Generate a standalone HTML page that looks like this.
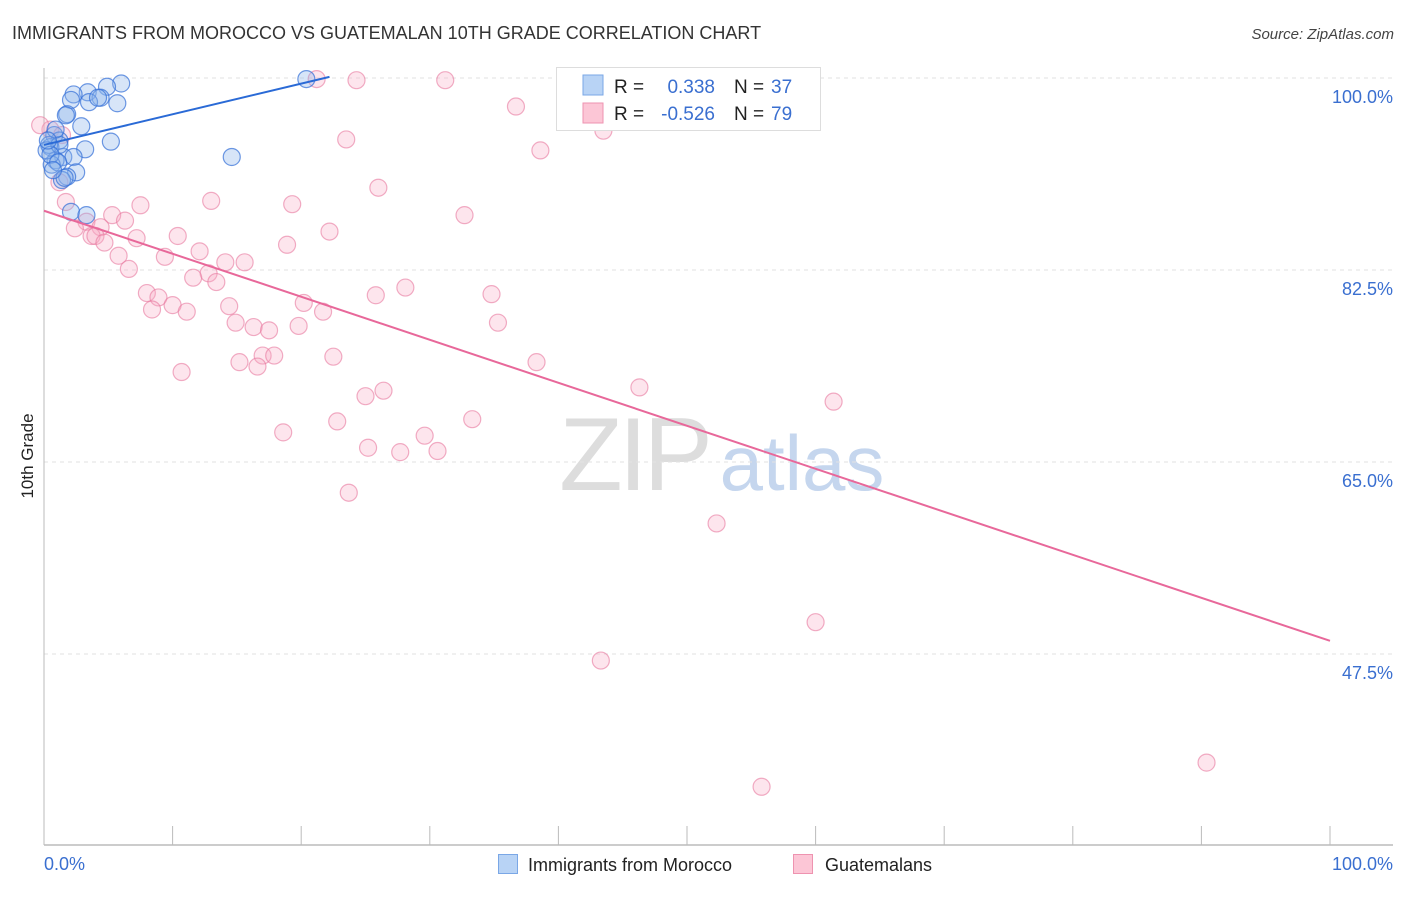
<!DOCTYPE html>
<html><head><meta charset="utf-8"><style>
body{margin:0;background:#fff;font-family:"Liberation Sans",sans-serif;}
svg text{font-family:"Liberation Sans",sans-serif;}
</style></head><body>
<svg id="chart" width="1406" height="892" xmlns="http://www.w3.org/2000/svg">
<text x="12" y="39" font-size="18" fill="#333">IMMIGRANTS FROM MOROCCO VS GUATEMALAN 10TH GRADE CORRELATION CHART</text>
<text x="1394" y="39" font-size="15" fill="#444" text-anchor="end" font-style="italic">Source: ZipAtlas.com</text>
<text transform="translate(33,456) rotate(-90)" font-size="17" fill="#222" text-anchor="middle">10th Grade</text>
<g>
<text x="634" y="490" font-size="104" fill="#ddd" text-anchor="middle" font-family="Liberation Serif" letter-spacing="-4">ZIP</text>
<text x="802" y="490" font-size="78" fill="#c5d6ee" text-anchor="middle">atlas</text>
</g>
<g id="grid"></g>
<g id="axes"></g>
<g id="points"></g>
<g id="trends"></g>
<g>
<rect x="556.5" y="67.5" width="264" height="63" fill="#fff" stroke="#ddd"/>
<rect x="583" y="75" width="20" height="20" fill="#b8d3f5" stroke="#7aa7e6"/>
<rect x="583" y="103" width="20" height="20" fill="#fcc6d6" stroke="#ee93b0"/>
<text x="614" y="93" font-size="19" fill="#222">R =</text>
<text x="715" y="93" font-size="19" fill="#3a6fd0" text-anchor="end">0.338</text>
<text x="734" y="93" font-size="19" fill="#222">N =</text>
<text x="771" y="93" font-size="19" fill="#3a6fd0">37</text>
<text x="614" y="120" font-size="19" fill="#222">R =</text>
<text x="715" y="120" font-size="19" fill="#3a6fd0" text-anchor="end">-0.526</text>
<text x="734" y="120" font-size="19" fill="#222">N =</text>
<text x="771" y="120" font-size="19" fill="#3a6fd0">79</text>
</g>
<g>
<rect x="498.5" y="854.5" width="19" height="19" fill="#b8d3f5" stroke="#7aa7e6"/>
<text x="528" y="871" font-size="18" fill="#222">Immigrants from Morocco</text>
<rect x="793.5" y="854.5" width="19" height="19" fill="#fcc6d6" stroke="#ee93b0"/>
<text x="825" y="871" font-size="18" fill="#222">Guatemalans</text>
</g>
</svg>
<script>
const yTicks=[100,82.5,65,47.5];
const yTickLabels=["100.0%","82.5%","65.0%","47.5%"];
const xTickCount=10;
const xLabels=["0.0%","100.0%"];
const moroccoX=[20.4,6.0,4.9,3.4,2.3,4.4,2.1,5.7,3.5,1.8,2.9,0.8,1.2,0.5,3.2,5.2,1.5,2.3,0.9,14.6,0.6,2.5,1.8,1.4,2.1,3.3,0.4,0.2,1.2,0.9,1.7,4.2,0.5,1.1,1.6,0.3,0.7];
const moroccoY=[99.9,99.5,99.2,98.7,98.5,98.2,98.0,97.7,97.8,96.7,95.6,94.8,94.3,93.7,93.5,94.2,92.8,92.8,92.5,92.8,92.1,91.4,91.0,90.7,87.8,87.5,93.9,93.4,93.9,95.3,96.6,98.2,93.0,92.3,90.9,94.3,91.6];
const guatX=[21.2,24.3,31.2,58.6,36.7,43.5,23.5,38.6,0.5,1.4,26.0,1.2,13.0,19.3,7.5,1.7,32.7,5.3,6.3,3.3,4.4,2.4,10.4,22.2,7.2,3.7,4.0,4.7,18.9,12.1,5.8,9.4,15.6,14.1,6.6,12.8,11.6,13.4,28.1,8.0,8.9,25.8,34.8,20.2,14.4,10.0,8.4,11.1,21.7,35.3,14.9,16.3,17.5,19.8,22.5,17.0,17.9,15.2,16.6,38.3,10.7,46.3,26.4,25.0,61.4,33.3,22.8,18.6,29.6,25.2,27.7,30.6,23.7,52.3,60.0,43.3,90.4,55.8,-0.3];
const guatY=[99.9,99.8,99.8,99.8,97.4,95.2,94.4,93.4,95.3,94.8,90.0,90.5,88.8,88.5,88.4,88.7,87.5,87.5,87.0,86.9,86.4,86.3,85.6,86.0,85.4,85.6,85.6,85.0,84.8,84.2,83.8,83.7,83.2,83.2,82.6,82.2,81.8,81.4,80.9,80.4,80.0,80.2,80.3,79.5,79.2,79.3,78.9,78.7,78.7,77.7,77.7,77.3,77.0,77.4,74.6,74.7,74.7,74.1,73.7,74.1,73.2,71.8,71.5,71.0,70.5,68.9,68.7,67.7,67.4,66.3,65.9,66.0,62.2,59.4,50.4,46.9,37.6,35.4,95.7];
const moroccoTrend=[[0,93.9],[22.2,100.1]];
const guatTrend=[[0,87.9],[100,48.7]];

const NS="http://www.w3.org/2000/svg";
const X0=44,X1=1330,YTOP=78,PXPER=192/17.5;
function sx(v){return X0+(X1-X0)*v/100;}
function sy(v){return YTOP+(100-v)*PXPER;}
function mk(tag,attrs,parent){const e=document.createElementNS(NS,tag);for(const k in attrs)e.setAttribute(k,attrs[k]);parent.appendChild(e);return e;}
const grid=document.getElementById('grid'),axes=document.getElementById('axes');
yTicks.forEach((t,i)=>{
  const l=mk('line',{x1:X0,x2:1393,y1:sy(t),y2:sy(t),stroke:'#e2e2e2','stroke-dasharray':'4,4'},grid);
  
  
  const tx=mk('text',{x:1393,y:sy(t)+25,'font-size':18,fill:'#3a6fd0','text-anchor':'end'},axes);
  tx.textContent=yTickLabels[i];
  
  
});
const ya=mk('line',{x1:X0,x2:X0,y1:68,y2:845,stroke:'#bbb'},axes);


const xa=mk('line',{x1:X0,x2:1393,y1:845,y2:845,stroke:'#bbb','stroke-width':1.5},axes);


for(let i=0;i<=xTickCount;i++){
  const v=i*100/xTickCount;
  const t=mk('line',{x1:sx(v),x2:sx(v),y1:826,y2:845,stroke:'#bbb'},axes);
  
  
}
const xl0=mk('text',{x:44,y:870,'font-size':18,fill:'#3a6fd0'},axes);xl0.textContent=xLabels[0];


const xl1=mk('text',{x:1393,y:870,'font-size':18,fill:'#3a6fd0','text-anchor':'end'},axes);xl1.textContent=xLabels[1];


const pts=document.getElementById('points');
guatX.forEach((x,i)=>{
  const c=mk('circle',{cx:sx(x),cy:sy(guatY[i]),r:8.5,fill:'rgba(248,170,195,0.3)',stroke:'rgba(232,120,158,0.6)','stroke-width':1.2},pts);
  
  
});
moroccoX.forEach((x,i)=>{
  const c=mk('circle',{cx:sx(x),cy:sy(moroccoY[i]),r:8.5,fill:'rgba(140,180,235,0.35)',stroke:'rgba(50,110,215,0.7)','stroke-width':1.2},pts);
  
  
});
const tr=document.getElementById('trends');
const t1=mk('line',{x1:sx(moroccoTrend[0][0]),y1:sy(moroccoTrend[0][1]),x2:sx(moroccoTrend[1][0]),y2:sy(moroccoTrend[1][1]),stroke:'#2a6ad6','stroke-width':2},tr);


const t2=mk('line',{x1:sx(guatTrend[0][0]),y1:sy(guatTrend[0][1]),x2:sx(guatTrend[1][0]),y2:sy(guatTrend[1][1]),stroke:'#e8689a','stroke-width':2},tr);


</script>
</body></html>
